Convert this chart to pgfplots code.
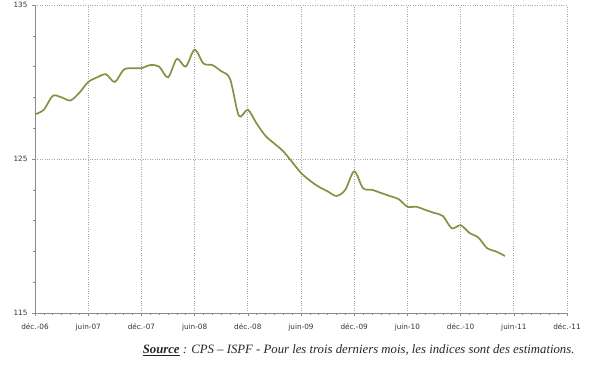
\documentclass[border=0pt]{standalone}
\usepackage{pgfplots}
\pgfplotsset{compat=1.18}
\usepackage{fontspec}
\setmainfont{Liberation Serif}
\newfontfamily\tickfont{DejaVu Sans}
\definecolor{olive}{RGB}{128,148,66}
\definecolor{axgray}{RGB}{140,140,140}
\definecolor{gridgray}{RGB}{165,165,165}
\begin{document}
\begin{tikzpicture}[x=1bp,y=1bp]
\useasboundingbox (0,0) rectangle (600,372);
\begin{axis}[
  at={(35bp,59bp)}, anchor=origin,
  scale only axis, width=532bp, height=308bp,
  xmin=0, xmax=60, ymin=115, ymax=135,
  axis lines*=left,
  axis line style={axgray, line width=1pt},
  xtick={0,6,...,60},
  xticklabels={déc.-06,juin-07,déc.-07,juin-08,déc.-08,juin-09,déc.-09,juin-10,déc.-10,juin-11,déc.-11},
  minor x tick num=5,
  ytick={115,125,135},
  minor ytick={117,119,121,123,127,129,131,133},
  tick align=outside,
  major tick length=3bp, minor tick length=2bp,
  tick style={axgray, line width=0.6pt},
  xmajorgrids, ymajorgrids,
  major grid style={gridgray, dotted, line width=0.9pt},
  ticklabel style={font=\tickfont\fontsize{7.3}{8}\selectfont, text=black!80},
  xticklabel style={yshift=-4bp},
  yticklabel style={xshift=-1bp},
  /pgf/number format/assume math mode=true,
  clip=false,
]
\addplot[olive, line width=1.7pt, smooth, tension=0.5] coordinates {
(0,127.9)(1,128.2)(2,129.1)(3,129.0)(4,128.8)(5,129.3)(6,130.0)(7,130.3)(8,130.5)(9,130.0)
(10,130.8)(11,130.9)(12,130.9)(13,131.1)(14,131.0)(15,130.3)(16,131.5)(17,131.0)(18,132.1)(19,131.2)
(20,131.1)(21,130.7)(22,130.2)(23,127.8)(24,128.2)(25,127.3)(26,126.5)(27,126.0)(28,125.5)(29,124.8)
(30,124.1)(31,123.6)(32,123.2)(33,122.9)(34,122.6)(35,123.0)(36,124.2)(37,123.1)(38,123.0)(39,122.8)
(40,122.6)(41,122.4)(42,121.9)(43,121.9)(44,121.7)(45,121.5)(46,121.3)(47,120.5)(48,120.7)(49,120.2)
(50,119.9)(51,119.2)(52,119.0)(53,118.7)
};
\end{axis}
\node[anchor=east, font=\itshape\fontsize{12.8}{14}\selectfont, text=black!85] at (578,22)
  {\textbf{\underline{Source}} : CPS -- ISPF - Pour les trois derniers mois, les indices sont des estimations.};
\end{tikzpicture}
\end{document}
